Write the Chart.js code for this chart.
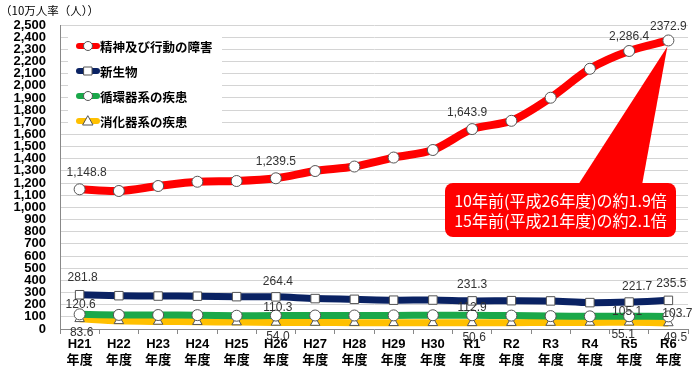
<!DOCTYPE html>
<html>
<head>
<meta charset="utf-8">
<script src="https://cdn.jsdelivr.net/npm/chart.js@4"></script>
<style>
    html, body { margin: 0; padding: 0; background: #fff; }
    #wrap { width: 700px; height: 373px; }
</style>
</head>
<body>
<div id="wrap"><canvas id="chart"></canvas></div>
<script>
// 年度
const years = ['H21', 'H22', 'H23', 'H24', 'H25', 'H26', 'H27', 'H28', 'H29', 'H30', 'R1', 'R2', 'R3', 'R4', 'R5', 'R6'];

// 10万人率（人）
const mental = [1148.8, 1135, 1176, 1211, 1217, 1239.5, 1299, 1336, 1410, 1472, 1643.9, 1712, 1902, 2140, 2286.4, 2372.9];
const neoplasm = [281.8, 274, 271, 270, 266, 264.4, 250, 244, 237, 238, 231.3, 233, 231, 217, 221.7, 235.5];
const circulatory = [120.6, 116, 115, 114, 109, 110.3, 111, 111, 112, 113, 112.9, 110, 106, 104, 105.1, 103.7];
const digestive = [83.6, 67, 62, 60, 57, 54.0, 53, 52, 51, 51, 50.6, 52, 53, 54, 55.1, 49.5];

// which points carry a value label
const labelIdx = [0, 5, 10, 14, 15];

const yTicks = { min: 0, max: 2500, step: 100 };

const seriesNames = ['精神及び行動の障害', '新生物', '循環器系の疾患', '消化器系の疾患'];
const seriesColors = ['#ff0000', '#0a2263', '#1aa84a', '#ffc000'];
const seriesPoints = ['circle', 'rect', 'circle', 'triangle'];

const calloutLines = ['10年前(平成26年度)の約1.9倍', '15年前(平成21年度)の約2.1倍'];

const NUM_FONT = '"Liberation Sans", Arial, "Noto Sans CJK JP", sans-serif';
const JP_FONT = '"Noto Sans CJK JP", "Liberation Sans", sans-serif';

function fmt(v, i, dsIndex) {
    // the last red label is printed without a comma in the original
    if (dsIndex === 0 && i === years.length - 1) return v.toFixed(1);
    return v.toLocaleString('en-US', { minimumFractionDigits: 1, maximumFractionDigits: 1 });
}

// label offsets per series: [dx, dy] from the point, for each labelled index
const labelOffsets = [
    [[7, -17], [0, -17], [-5, -16], [0, -14], [0, -14]],
    [[3, -17], [2, -15], [0, -16], [8, -15], [3, -17]],
    [[1, -10], [2, -8], [0, -8], [-2, -5], [9, -3]],
    [[2, 14], [2, 14], [2, 15], [-6, 12], [7, 15]]
];

const extras = {
    id: 'extras',
    afterDatasetsDraw(chart) {
        const { ctx, chartArea: a } = chart;
        ctx.save();

        // value labels
        ctx.font = '12px ' + NUM_FONT;
        ctx.fillStyle = '#333';
        ctx.textAlign = 'center';
        ctx.textBaseline = 'middle';
        chart.data.datasets.forEach((ds, d) => {
            const meta = chart.getDatasetMeta(d);
            labelIdx.forEach((i, k) => {
                const p = meta.data[i];
                const off = labelOffsets[d][k];
                ctx.fillText(fmt(ds.data[i], i, d), p.x + off[0], p.y + off[1]);
            });
        });

        // callout
        const tip = chart.getDatasetMeta(0).data[years.length - 1];
        const bx = a.left + 385, by = a.top + 158, bw = 231, bh = 54;
        ctx.fillStyle = '#ff0000';
        ctx.beginPath();
        ctx.moveTo(bx + 133, by + 2);
        ctx.lineTo(tip.x - 1, tip.y + 6);
        ctx.lineTo(bx + 197, by + 2);
        ctx.closePath();
        ctx.fill();
        ctx.beginPath();
        ctx.roundRect(bx, by, bw, bh, 8);
        ctx.fill();
        ctx.fillStyle = '#fff';
        ctx.font = '16px ' + JP_FONT;
        ctx.fillText(calloutLines[0], bx + bw / 2, by + 18);
        ctx.fillText(calloutLines[1], bx + bw / 2, by + 38);

        // legend
        const lx = a.left + 8, ly = a.top + 8;
        ctx.fillStyle = '#fff';
        ctx.fillRect(lx, ly, 154, 100);
        seriesNames.forEach((name, i) => {
            const y = ly + 13 + i * 25;
            ctx.strokeStyle = seriesColors[i];
            ctx.lineWidth = 6;
            ctx.lineCap = 'round';
            ctx.beginPath();
            ctx.moveTo(lx + 11, y);
            ctx.lineTo(lx + 29, y);
            ctx.stroke();
            ctx.fillStyle = '#fff';
            ctx.strokeStyle = '#555';
            ctx.lineWidth = 1;
            const mx = lx + 20;
            ctx.beginPath();
            if (seriesPoints[i] === 'rect') {
                ctx.rect(mx - 4, y - 4, 8, 8);
            } else if (seriesPoints[i] === 'triangle') {
                ctx.moveTo(mx, y - 5);
                ctx.lineTo(mx + 5, y + 4);
                ctx.lineTo(mx - 5, y + 4);
                ctx.closePath();
            } else {
                ctx.arc(mx, y, 4.5, 0, Math.PI * 2);
            }
            ctx.fill();
            ctx.stroke();
            ctx.fillStyle = '#000';
            ctx.font = 'bold 12.5px ' + JP_FONT;
            ctx.textAlign = 'left';
            ctx.fillText(name, lx + 32, y + 1);
        });

        // axis title
        ctx.font = '11.5px ' + JP_FONT;
        ctx.fillStyle = '#000';
        ctx.textAlign = 'left';
        ctx.fillText('（10万人率（人））', 0, 11);

        ctx.restore();
    }
};

new Chart(document.getElementById('chart'), {
    type: 'line',
    data: {
        labels: years.map(y => [y, '年度']),
        datasets: [mental, neoplasm, circulatory, digestive].map((data, i) => ({
            label: seriesNames[i],
            data: data,
            borderColor: seriesColors[i],
            borderWidth: i === 0 ? 8 : 7,
            tension: 0.3,
            pointStyle: seriesPoints[i],
            pointRadius: i === 1 ? 6 : 5.5,
            pointBackgroundColor: '#fff',
            pointBorderColor: '#555',
            pointBorderWidth: 1,
            fill: false
        }))
    },
    options: {
        responsive: true,
        maintainAspectRatio: false,
        animation: false,
        layout: { padding: { top: 25, right: 12, left: 0, bottom: 0 } },
        plugins: {
            legend: { display: false },
            tooltip: { enabled: false }
        },
        scales: {
            x: {
                offset: true,
                afterFit: s => { s.height = 44; },
                border: { color: '#888' },
                grid: { offset: true, drawOnChartArea: false, tickLength: 5, color: '#888' },
                ticks: {
                    color: '#000',
                    padding: 2,
                    maxRotation: 0,
                    autoSkip: false,
                    font: { family: NUM_FONT, size: 13, weight: 'bold', lineHeight: 1.25 }
                }
            },
            y: {
                min: yTicks.min,
                max: yTicks.max,
                afterFit: s => { s.width = 60; },
                border: { color: '#888' },
                grid: { color: '#d4d4d4', tickLength: 0 },
                ticks: {
                    stepSize: yTicks.step,
                    autoSkip: false,
                    color: '#000',
                    padding: 14,
                    font: { family: NUM_FONT, size: 13, weight: 'bold' },
                    callback: v => v.toLocaleString('en-US')
                }
            }
        }
    },
    plugins: [extras]
});
</script>
</body>
</html>
